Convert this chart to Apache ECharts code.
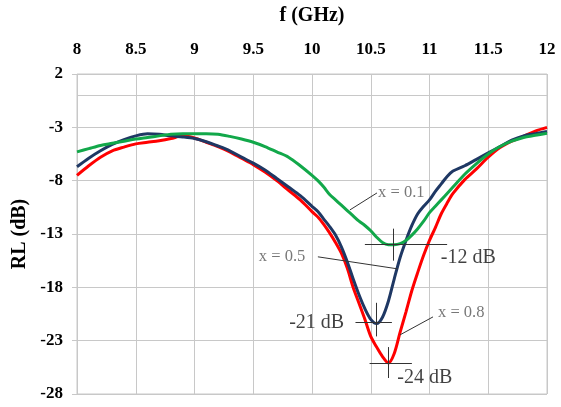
<!DOCTYPE html>
<html>
<head>
<meta charset="utf-8">
<script src="https://cdn.jsdelivr.net/npm/echarts@6/dist/echarts.min.js"></script>
<style>
  html, body { margin: 0; padding: 0; background: #fff; }
  #chart { width: 561px; height: 407px; }
</style>
</head>
<body>
<div id="chart"></div>
<script>
// 频率 (GHz)
var freq = [8.0, 8.1, 8.2, 8.3, 8.4, 8.5, 8.6, 8.7, 8.8, 8.9, 9.0, 9.1, 9.2, 9.3, 9.4, 9.5, 9.6, 9.7, 9.8, 9.9,
  10.0, 10.05, 10.1, 10.15, 10.2, 10.25, 10.3, 10.35, 10.4, 10.45, 10.5, 10.55, 10.6, 10.65, 10.7, 10.75,
  10.8, 10.85, 10.9, 10.95, 11.0, 11.05, 11.1, 11.15, 11.2, 11.3, 11.4, 11.5, 11.6, 11.7, 11.8, 11.9, 12.0];

// RL (dB), x = 0.1
var rl01 = [-5.3, -5.0, -4.7, -4.5, -4.3, -4.1, -3.95, -3.8, -3.65, -3.6, -3.6, -3.6, -3.65, -3.85, -4.1, -4.4, -4.8, -5.3, -5.8, -6.6,
  -7.5, -8.0, -8.6, -9.3, -9.8, -10.3, -10.8, -11.3, -11.8, -12.2, -12.7, -13.3, -13.8, -14.0, -14.0, -13.9,
  -13.6, -13.1, -12.5, -11.8, -11.0, -10.4, -9.8, -9.2, -8.6, -7.4, -6.4, -5.5, -4.8, -4.3, -3.95, -3.75, -3.55];

// RL (dB), x = 0.5
var rl05 = [-6.7, -5.9, -5.2, -4.6, -4.15, -3.8, -3.6, -3.65, -3.8, -3.9, -4.05, -4.35, -4.75, -5.2, -5.8, -6.35, -7.0, -7.8, -8.6, -9.4,
  -10.4, -10.9, -11.6, -12.3, -13.1, -14.2, -15.6, -17.2, -18.7, -20.0, -21.0, -21.4, -20.8, -19.3, -17.2, -15.2,
  -13.6, -12.2, -11.1, -10.4, -9.8, -9.0, -8.3, -7.6, -7.1, -6.6, -6.0, -5.4, -4.8, -4.2, -3.8, -3.6, -3.4];

// RL (dB), x = 0.8
var rl08 = [-7.5, -6.6, -5.8, -5.2, -4.85, -4.55, -4.4, -4.25, -4.05, -3.8, -4.0, -4.4, -4.8, -5.3, -5.9, -6.5, -7.2, -8.0, -8.9, -9.8,
  -10.9, -11.4, -12.1, -12.9, -13.8, -14.8, -16.2, -18.0, -19.5, -21.0, -22.6, -23.6, -24.5, -25.1, -24.2, -22.2,
  -20.3, -18.3, -16.6, -15.0, -13.6, -12.4, -11.1, -10.1, -9.2, -7.9, -6.9, -5.8, -4.9, -4.3, -3.85, -3.35, -3.0];

// 标注文字 [x, y, 文字]
var notes = [
  [11.33, -15.24, '-12 dB'],
  [10.04, -21.3, '-21 dB'],
  [10.96, -26.45, '-24 dB']
];
var tags = [
  [10.76, -9.15, 'x = 0.1'],
  [9.745, -15.14, 'x = 0.5'],
  [11.27, -20.4, 'x = 0.8']
];
// 十字线和引线 [[x1, y1], [x2, y2]]
var marks = [
  [[10.45, -14.0], [11.15, -14.0]], [[10.69, -12.5], [10.69, -15.5]],
  [[10.37, -21.3], [10.68, -21.3]], [[10.545, -19.45], [10.545, -22.6]],
  [[10.49, -25.16], [10.85, -25.16]], [[10.65, -23.6], [10.65, -26.5]],
  [[10.553, -9.15], [10.323, -10.74]],
  [[10.05, -15.14], [10.73, -16.27]],
  [[11.03, -20.77], [10.75, -22.45]]
];

function pairs(ys) {
  return freq.map(function (f, i) { return [f, ys[i]]; });
}

var serif = '"Liberation Serif", "DejaVu Serif", serif';
var chart = echarts.init(document.getElementById('chart'));

chart.setOption({
  animation: false,
  grid: { left: 77, right: 14, top: 74, bottom: 13, show: true, borderColor: '#c8c8c8', borderWidth: 1 },
  xAxis: {
    type: 'value',
    position: 'top',
    min: 8, max: 12, interval: 0.5,
    name: 'f (GHz)',
    nameLocation: 'middle',
    nameGap: 48,
    nameTextStyle: { fontFamily: serif, fontWeight: 'bold', fontSize: 20, color: '#000' },
    axisLine: { show: false },
    axisTick: { show: false },
    axisLabel: { fontFamily: serif, fontWeight: 'bold', fontSize: 17, color: '#000', margin: 16 },
    splitLine: { lineStyle: { color: '#c8c8c8', width: 1 } }
  },
  yAxis: {
    type: 'value',
    min: -28, max: 2, interval: 5,
    name: 'RL (dB)',
    nameLocation: 'middle',
    nameGap: 43,
    nameTextStyle: { fontFamily: serif, fontWeight: 'bold', fontSize: 20, color: '#000' },
    axisLine: { show: false },
    axisTick: { show: true, length: 5, lineStyle: { color: '#c8c8c8' } },
    axisLabel: { fontFamily: serif, fontWeight: 'bold', fontSize: 17, color: '#000', margin: 14 },
    splitLine: { lineStyle: { color: '#c8c8c8', width: 1 } }
  },
  series: [
    {
      name: 'x = 0.8', type: 'line', data: pairs(rl08), showSymbol: false, smooth: 0.3,
      lineStyle: { color: '#ff0000', width: 3 }, z: 2,
      markLine: {
        silent: true, symbol: 'none', label: { show: false },
        lineStyle: { color: '#c8c8c8', width: 1, type: 'solid' },
        data: [{ yAxis: 0 }]
      }
    },
    {
      name: 'x = 0.5', type: 'line', data: pairs(rl05), showSymbol: false, smooth: 0.3,
      lineStyle: { color: '#1f3864', width: 3 }, z: 3
    },
    {
      name: 'x = 0.1', type: 'line', data: pairs(rl01), showSymbol: false, smooth: 0.3,
      lineStyle: { color: '#12a84a', width: 3 }, z: 4
    },
    {
      // 十字线和引线
      type: 'lines', coordinateSystem: 'cartesian2d', silent: true, z: 5,
      data: marks.map(function (m) { return { coords: m }; }),
      lineStyle: { color: '#333', width: 1, opacity: 1 }
    },
    {
      type: 'scatter', symbolSize: 0, silent: true, z: 6,
      data: notes,
      label: {
        show: true, position: 'inside', color: '#111', fontFamily: serif, fontSize: 20,
        formatter: function (p) { return p.data[2]; }
      }
    },
    {
      type: 'scatter', symbolSize: 0, silent: true, z: 6,
      data: tags,
      label: {
        show: true, position: 'inside', color: '#555', fontFamily: serif, fontSize: 16.5,
        formatter: function (p) { return p.data[2]; }
      }
    }
  ]
});
</script>
</body>
</html>
